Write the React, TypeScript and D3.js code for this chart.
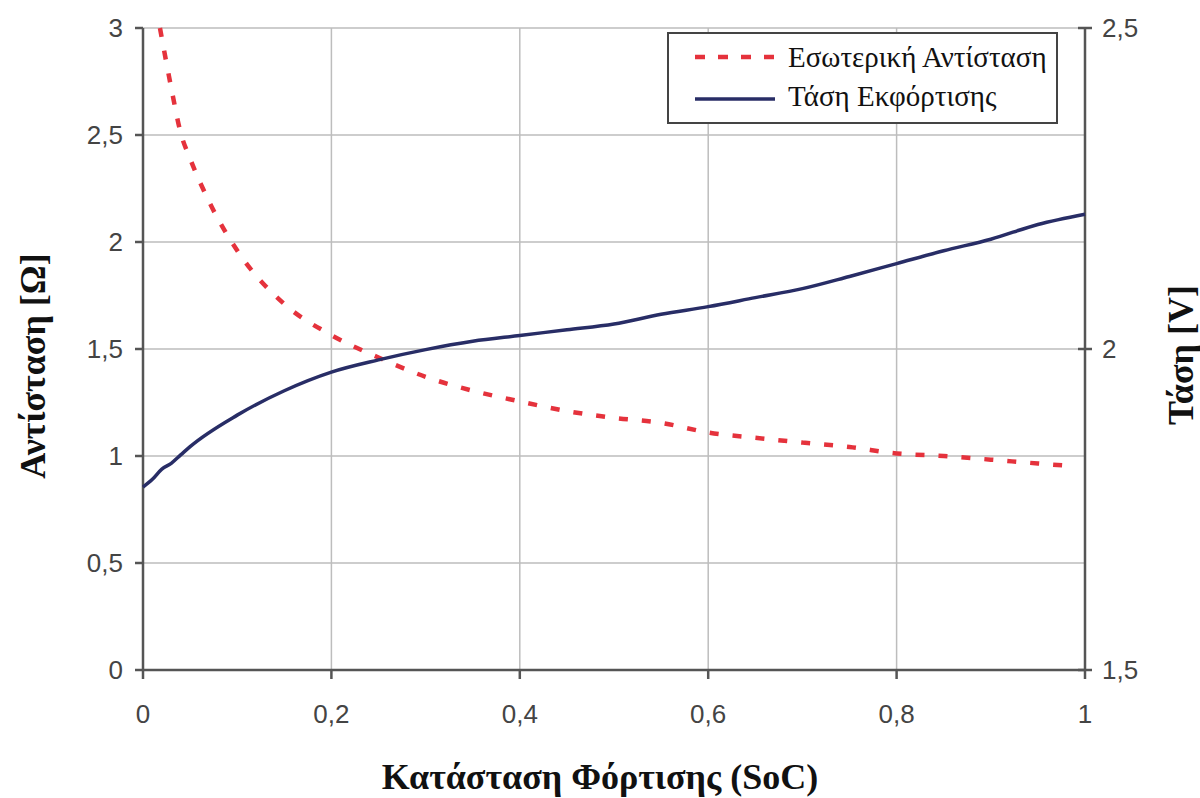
import React from "react";
import * as d3 from "d3";

const socResistance = [0.018, 0.03, 0.04, 0.05, 0.07, 0.1, 0.15, 0.2, 0.25, 0.3, 0.35, 0.4, 0.45, 0.5, 0.55, 0.6, 0.65, 0.7, 0.75, 0.8, 0.85, 0.9, 0.95, 0.99];
const resistance = [3.0, 2.72, 2.51, 2.39, 2.19, 1.96, 1.71, 1.565, 1.46, 1.37, 1.305, 1.255, 1.21, 1.178, 1.155, 1.11, 1.085, 1.063, 1.042, 1.012, 1.0, 0.983, 0.965, 0.952];
const socVoltage = [0, 0.01, 0.02, 0.03, 0.04, 0.05, 0.1, 0.15, 0.2, 0.25, 0.3, 0.35, 0.4, 0.45, 0.5, 0.55, 0.6, 0.65, 0.7, 0.75, 0.8, 0.85, 0.9, 0.95, 1.0];
const voltage = [1.785, 1.797, 1.813, 1.822, 1.835, 1.848, 1.897, 1.935, 1.964, 1.983, 1.999, 2.012, 2.021, 2.030, 2.039, 2.054, 2.066, 2.080, 2.094, 2.113, 2.133, 2.153, 2.171, 2.194, 2.210];
const xTicks = [0, 0.2, 0.4, 0.6, 0.8, 1];
const leftTicks = [0, 0.5, 1, 1.5, 2, 2.5, 3];
const rightTicks = [1.5, 2, 2.5];
const legendLabels = ["Εσωτερική Αντίσταση", "Τάση Εκφόρτισης"];

const fmt = (v: number) => String(v).replace(".", ",");

export default function App() {
  const x = d3.scaleLinear().domain([0, 1]).range([143, 1085]);
  const yL = d3.scaleLinear().domain([0, 3]).range([670, 28]);
  const yR = d3.scaleLinear().domain([1.5, 2.5]).range([670, 28]);
  const red = "#e5323c";
  const blue = "#282d66";
  const axisCol = "#555";
  const gridCol = "#bdbdbd";

  const lineR = d3.line<number>().x((_, i) => x(socResistance[i])).y((d) => yL(d)).curve(d3.curveMonotoneX);
  const lineV = d3.line<number>().x((_, i) => x(socVoltage[i])).y((d) => yR(d)).curve(d3.curveMonotoneX);

  const tickFont = "'Liberation Sans', Arial, sans-serif";
  const serif = "'Liberation Serif', 'Times New Roman', serif";

  return (
    <div style={{ position: "fixed", left: 0, top: 0 }}>
      <svg width={1200} height={798} style={{ display: "block", background: "#fff" }}>
        {leftTicks.map((t) => (
          <line key={"gh" + t} x1={x(0)} x2={x(1)} y1={yL(t)} y2={yL(t)} stroke={gridCol} strokeWidth={1.5} />
        ))}
        {xTicks.map((t) => (
          <line key={"gv" + t} x1={x(t)} x2={x(t)} y1={yL(0)} y2={yL(3)} stroke={gridCol} strokeWidth={1.5} />
        ))}
        <line x1={x(0)} x2={x(0)} y1={yL(0)} y2={yL(3)} stroke={axisCol} strokeWidth={2.5} />
        <line x1={x(1)} x2={x(1)} y1={yL(0)} y2={yL(3)} stroke={axisCol} strokeWidth={2.5} />
        <line x1={x(0)} x2={x(1)} y1={yL(0)} y2={yL(0)} stroke={axisCol} strokeWidth={2.5} />
        {leftTicks.map((t) => (
          <g key={"lt" + t}>
            <line x1={x(0) - 8} x2={x(0)} y1={yL(t)} y2={yL(t)} stroke={axisCol} strokeWidth={2.5} />
            <text x={x(0) - 20} y={yL(t)} dy="0.36em" textAnchor="end" fontFamily={tickFont} fontSize={26} fill="#444">{fmt(t)}</text>
          </g>
        ))}
        {rightTicks.map((t) => (
          <g key={"rt" + t}>
            <line x1={x(1) - 7} x2={x(1) + 7} y1={yR(t)} y2={yR(t)} stroke={axisCol} strokeWidth={2.5} />
            <text x={x(1) + 17} y={yR(t)} dy="0.36em" textAnchor="start" fontFamily={tickFont} fontSize={26} fill="#444">{fmt(t)}</text>
          </g>
        ))}
        {xTicks.map((t) => (
          <g key={"xt" + t}>
            <line x1={x(t)} x2={x(t)} y1={yL(0)} y2={yL(0) + 9} stroke={axisCol} strokeWidth={2.5} />
            <text x={x(t)} y={723} textAnchor="middle" fontFamily={tickFont} fontSize={26} fill="#444">{fmt(t)}</text>
          </g>
        ))}
        <path d={lineR(resistance) || ""} fill="none" stroke={red} strokeWidth={4.5} strokeDasharray="9,14" />
        <path d={lineV(voltage) || ""} fill="none" stroke={blue} strokeWidth={3.5} />
        <rect x={668} y={33} width={389} height={90} fill="#fff" stroke="#444" strokeWidth={2} />
        <line x1={695} x2={777} y1={57} y2={57} stroke={red} strokeWidth={4.5} strokeDasharray="10,13" />
        <text x={788} y={67} fontFamily={serif} fontSize={29} fill="#111">{legendLabels[0]}</text>
        <line x1={695} x2={775} y1={99} y2={99} stroke={blue} strokeWidth={3.5} />
        <text x={788} y={106} fontFamily={serif} fontSize={29} fill="#111">{legendLabels[1]}</text>
        <text x={600} y={789} textAnchor="middle" fontFamily={serif} fontWeight="bold" fontSize={36} fill="#111">Κατάσταση Φόρτισης (SoC)</text>
        <text transform="translate(45,366) rotate(-90)" textAnchor="middle" fontFamily={serif} fontWeight="bold" fontSize={36} fill="#111">Αντίσταση [Ω]</text>
        <text transform="translate(1193,355) rotate(-90)" textAnchor="middle" fontFamily={serif} fontWeight="bold" fontSize={36} fill="#111">Τάση [V]</text>
      </svg>
    </div>
  );
}
